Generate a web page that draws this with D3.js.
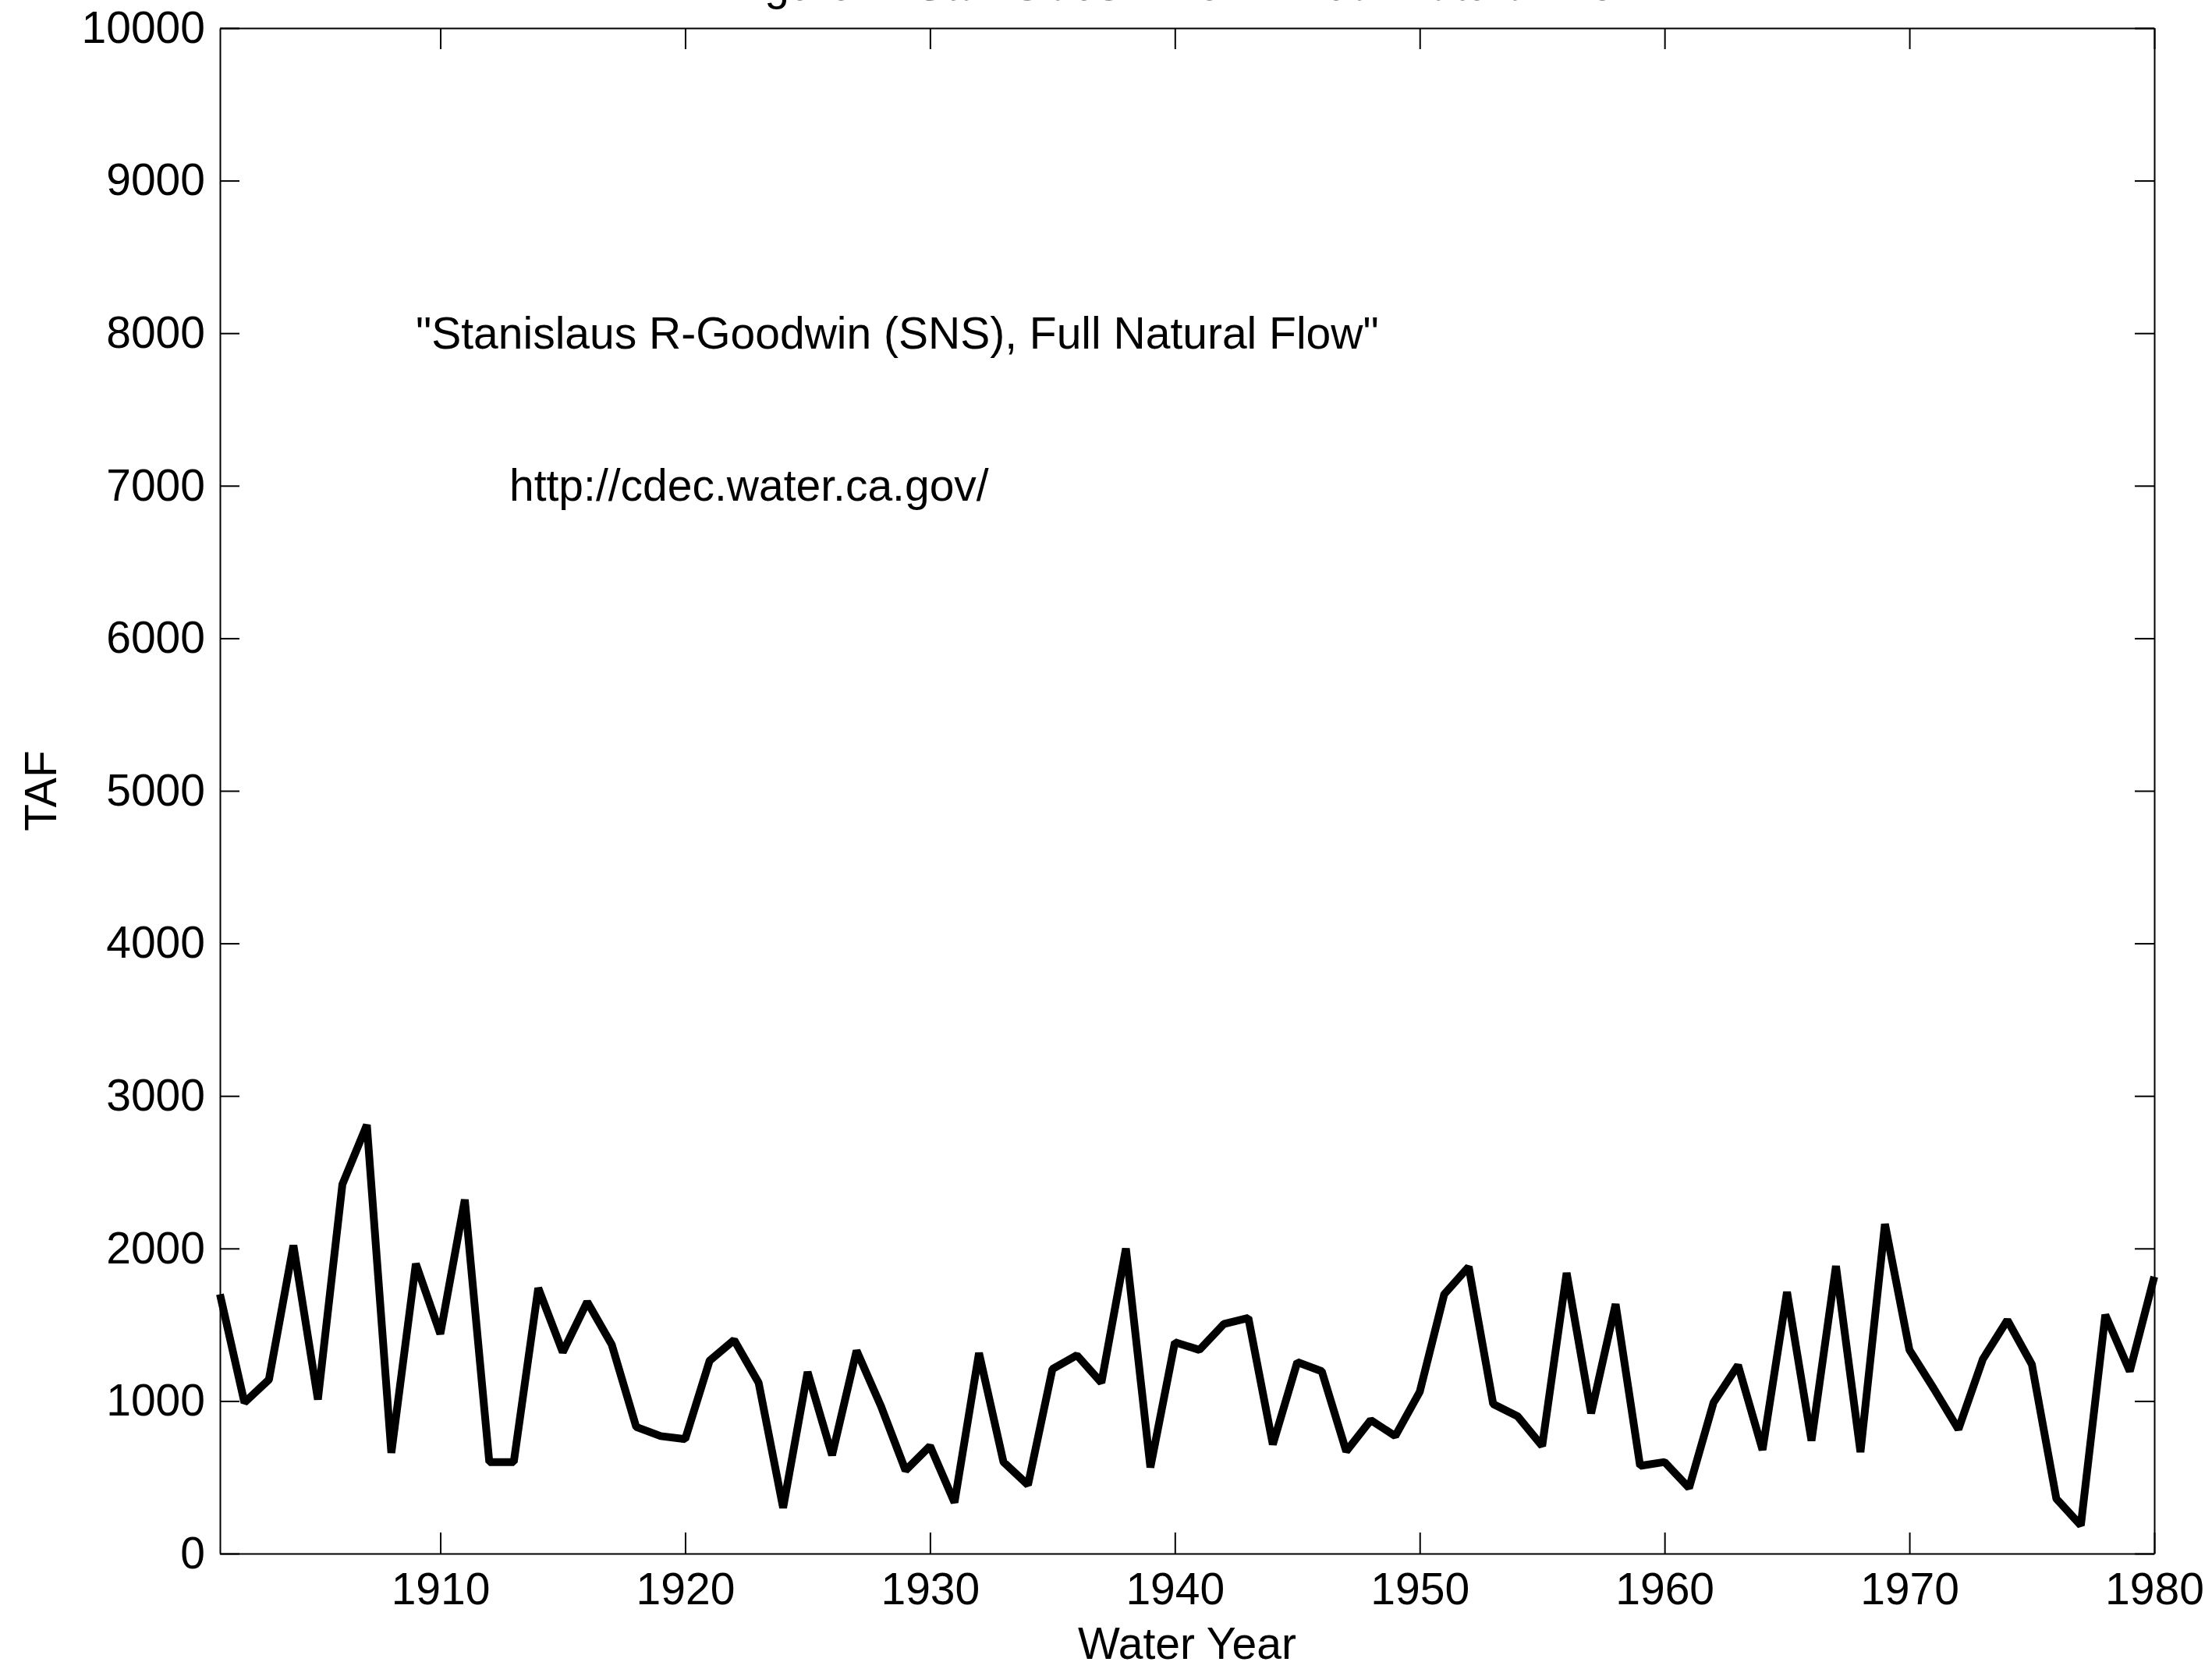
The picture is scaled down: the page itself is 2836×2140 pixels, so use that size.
<!DOCTYPE html>
<html>
<head>
<meta charset="utf-8">
<script src="https://cdn.jsdelivr.net/npm/d3@7"></script>
<style>
  body { margin: 0; background: #fff; }
  text { font-family: "Liberation Sans", Arial, sans-serif; fill: #000; }
</style>
</head>
<body>
<div id="chart"></div>
<script>
// water years on the x axis
var years = [
  1901, 1902, 1903, 1904, 1905, 1906, 1907, 1908, 1909, 1910,
  1911, 1912, 1913, 1914, 1915, 1916, 1917, 1918, 1919, 1920,
  1921, 1922, 1923, 1924, 1925, 1926, 1927, 1928, 1929, 1930,
  1931, 1932, 1933, 1934, 1935, 1936, 1937, 1938, 1939, 1940,
  1941, 1942, 1943, 1944, 1945, 1946, 1947, 1948, 1949, 1950,
  1951, 1952, 1953, 1954, 1955, 1956, 1957, 1958, 1959, 1960,
  1961, 1962, 1963, 1964, 1965, 1966, 1967, 1968, 1969, 1970,
  1971, 1972, 1973, 1974, 1975, 1976, 1977, 1978, 1979, 1980
]
// full natural flow, TAF
var flow = [
  1700, 990, 1140, 2020, 1010, 2420, 2810, 660, 1900, 1440,
  2320, 600, 600, 1740, 1320, 1650, 1370, 830, 770, 750,
  1265, 1400, 1120, 300, 1190, 645, 1330, 965, 545, 705,
  335, 1315, 600, 450, 1210, 1300, 1120, 2000, 565, 1385,
  1335, 1505, 1545, 715, 1255, 1195, 670, 875, 770, 1060,
  1700, 1880, 980, 900, 705, 1840, 920, 1635, 575, 600,
  430, 990, 1235, 680, 1715, 740, 1885, 665, 2160, 1335,
  1080, 815, 1275, 1530, 1240, 360, 185, 1565, 1195, 1815
]
var xTicks = [1910, 1920, 1930, 1940, 1950, 1960, 1970, 1980]
var yTicks = [0, 1000, 2000, 3000, 4000, 5000, 6000, 7000, 8000, 9000, 10000]
var notes = ['"Stanislaus R-Goodwin (SNS), Full Natural Flow"', 'http://cdec.water.ca.gov/']

var W = 2836, H = 2140
// plot box (don't call it "top", that's window.top)
var mLeft = 282, mRight = 2762, mTop = 36, mBottom = 1992
var fontSize = 57

var svg = d3.select("#chart").append("svg")
    .attr("width", W)
    .attr("height", H)
svg.append("rect").attr("width", W).attr("height", H).attr("fill", "#fff")

var x = d3.scaleLinear().domain([1901, 1980]).range([mLeft, mRight])
var y = d3.scaleLinear().domain([0, 10000]).range([mBottom, mTop])

// axes: ticks point inward on all four sides, labels only bottom/left
function styleAxis(g) {
    g.selectAll("path, line").attr("stroke", "#000").attr("stroke-width", 2)
    g.selectAll("text").style("font-size", fontSize + "px").attr("fill", "#000")
        .style("font-family", '"Liberation Sans", Arial, sans-serif')
}

svg.append("g")
    .attr("transform", "translate(0," + mBottom + ")")
    .call(d3.axisBottom(x).tickValues(xTicks).tickFormat(d3.format("d"))
        .tickSizeInner(-27).tickSizeOuter(0).tickPadding(25))
    .call(styleAxis)

svg.append("g")
    .attr("transform", "translate(0," + mTop + ")")
    .call(d3.axisTop(x).tickValues(xTicks).tickFormat("")
        .tickSizeInner(-27).tickSizeOuter(0))
    .call(styleAxis)

svg.append("g")
    .attr("transform", "translate(" + mLeft + ",0)")
    .call(d3.axisLeft(y).tickValues(yTicks).tickFormat(d3.format("d"))
        .tickSizeInner(-25).tickSizeOuter(0).tickPadding(19))
    .call(styleAxis)

svg.append("g")
    .attr("transform", "translate(" + mRight + ",0)")
    .call(d3.axisRight(y).tickValues(yTicks).tickFormat("")
        .tickSizeInner(-25).tickSizeOuter(0))
    .call(styleAxis)

// the flow line
var line = d3.line()
    .x(function (d, i) { return x(years[i]) })
    .y(function (d) { return y(d) })

svg.append("path")
    .datum(flow)
    .attr("d", line)
    .attr("fill", "none")
    .attr("stroke", "#000")
    .attr("stroke-width", 10)
    .attr("stroke-linejoin", "bevel")

// annotations inside the plot
svg.append("text")
    .attr("x", 533).attr("y", 447)
    .style("font-size", fontSize + "px")
    .text(notes[0])
svg.append("text")
    .attr("x", 653).attr("y", 642)
    .style("font-size", fontSize + "px")
    .text(notes[1])

// axis titles
svg.append("text")
    .attr("x", (mLeft + mRight) / 2).attr("y", 2127)
    .attr("text-anchor", "middle")
    .style("font-size", fontSize + "px")
    .text("Water Year")
svg.append("text")
    .attr("transform", "translate(72," + (mTop + mBottom) / 2 + ") rotate(-90)")
    .attr("text-anchor", "middle")
    .style("font-size", fontSize + "px")
    .text("TAF")

// figure title, cut off at the top edge like the original
svg.append("text")
    .attr("x", (mLeft + mRight) / 2).attr("y", 0)
    .attr("text-anchor", "middle")
    .style("font-size", fontSize + "px")
    .text("Figure 1. Stanislaus River Annual Natural Flow")
</script>
</body>
</html>
